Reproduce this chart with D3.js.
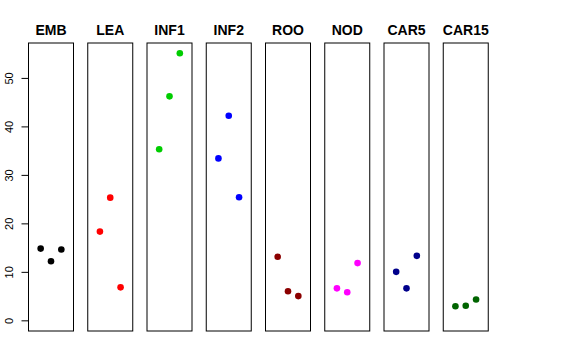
<!DOCTYPE html>
<html><head><meta charset="utf-8">
<script src="https://cdn.jsdelivr.net/npm/d3@7"></script>
<style>body{margin:0;background:#fff}svg{display:block}</style>
</head><body><svg id="c" width="576" height="360"></svg>
<script>
const categories = ["EMB","LEA","INF1","INF2","ROO","NOD","CAR5","CAR15"];
const colors = ["#000000","#FF0000","#00CD00","#0000FF","#8B0000","#FF00FF","#00008B","#006400"];
const values = [
  [14.8, 12.2, 14.6],
  [18.3, 25.3, 6.8],
  [35.3, 46.2, 55.1],
  [33.4, 42.2, 25.4],
  [13.1, 6.0, 5.0],
  [6.6, 5.8, 11.8],
  [10.0, 6.6, 13.3],
  [2.9, 3.0, 4.3]
];
const yTicks = [0, 10, 20, 30, 40, 50];

(function(){
const svg = d3.select("#c");
const plotTop = 43, plotBottom = 331;
const panelW = 45, firstX = 28.5, step = 59.25;
const y = d3.scaleLinear().domain([-2.2, 57.2]).range([plotBottom, plotTop]);
const x = d3.scaleLinear().domain([-2.18, 2.18]).range([0, panelW]);

categories.forEach((cat, i) => {
  const g = svg.append("g").attr("transform", `translate(${firstX + i*step},0)`);
  g.append("rect").attr("x", 0).attr("y", plotTop).attr("width", panelW).attr("height", plotBottom - plotTop)
    .attr("fill", "none").attr("stroke", "#000").attr("stroke-width", 1);
  g.append("text").attr("x", panelW/2).attr("y", 34.5).attr("text-anchor", "middle")
    .attr("font-family", "Liberation Sans, Arial, sans-serif").attr("font-weight", "bold")
    .attr("font-size", 14).text(cat);
  g.selectAll("circle").data(values[i]).join("circle")
    .attr("cx", (d, j) => x(j - 1)).attr("cy", d => y(d)).attr("r", 3.3)
    .attr("fill", colors[i]);
});

const axis = d3.axisLeft(y).tickValues(yTicks).tickSize(7);
const ag = svg.append("g").attr("transform", `translate(${firstX},0)`).call(axis);
ag.select(".domain").attr("d", `M0,${y(0)}V${y(50)}`).attr("stroke", "#000");
ag.selectAll(".tick line").attr("stroke", "#000");
ag.selectAll(".tick text")
  .attr("font-family", "Liberation Sans, Arial, sans-serif").attr("font-size", 11).attr("fill", "#000")
  .attr("text-anchor", "middle").attr("dy", 0).attr("x", null).attr("y", null)
  .attr("transform", "translate(-16,0) rotate(-90)");
})();
</script></body></html>
